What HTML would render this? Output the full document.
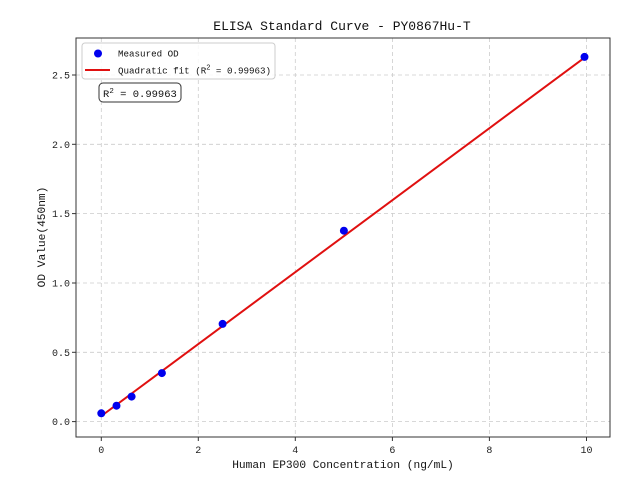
<!DOCTYPE html><html><head><style>body{margin:0;background:#fff}svg{font-family:"Liberation Mono",monospace}</style></head><body>
<svg width="640" height="480" viewBox="0 0 640 480" xmlns="http://www.w3.org/2000/svg">
<rect width="640" height="480" fill="#fff"/>
<g stroke="#ccc" stroke-dasharray="4,3" stroke-width="0.8">
<line x1="101.3" y1="38" x2="101.3" y2="437"/><line x1="198.3" y1="38" x2="198.3" y2="437"/><line x1="295.3" y1="38" x2="295.3" y2="437"/><line x1="392.4" y1="38" x2="392.4" y2="437"/><line x1="489.4" y1="38" x2="489.4" y2="437"/><line x1="586.5" y1="38" x2="586.5" y2="437"/>
<line x1="76" y1="421.6" x2="610" y2="421.6"/><line x1="76" y1="352.3" x2="610" y2="352.3"/><line x1="76" y1="283" x2="610" y2="283"/><line x1="76" y1="213.6" x2="610" y2="213.6"/><line x1="76" y1="144.3" x2="610" y2="144.3"/><line x1="76" y1="75" x2="610" y2="75"/>
</g>
<polyline fill="none" stroke="#e01010" stroke-width="2" points="101.3,416 586.5,56.2"/>
<g fill="#0000ee">
<circle cx="101.3" cy="413.3" r="4"/><circle cx="116.5" cy="405.7" r="4"/><circle cx="131.6" cy="396.6" r="4"/><circle cx="161.9" cy="373.1" r="4"/><circle cx="222.6" cy="323.9" r="4"/><circle cx="343.9" cy="230.7" r="4"/><circle cx="584.5" cy="56.9" r="4"/>
</g>
<rect x="76" y="38" width="534" height="399" fill="none" stroke="#333" stroke-width="1"/>
<g stroke="#333"><line x1="101.3" y1="437" x2="101.3" y2="441"/><line x1="198.3" y1="437" x2="198.3" y2="441"/><line x1="295.3" y1="437" x2="295.3" y2="441"/><line x1="392.4" y1="437" x2="392.4" y2="441"/><line x1="489.4" y1="437" x2="489.4" y2="441"/><line x1="586.5" y1="437" x2="586.5" y2="441"/>
<line x1="72" y1="421.6" x2="76" y2="421.6"/><line x1="72" y1="352.3" x2="76" y2="352.3"/><line x1="72" y1="283" x2="76" y2="283"/><line x1="72" y1="213.6" x2="76" y2="213.6"/><line x1="72" y1="144.3" x2="76" y2="144.3"/><line x1="72" y1="75" x2="76" y2="75"/></g>
<g font-size="10" fill="#222" text-anchor="middle">
<text x="101.3" y="453">0</text><text x="198.3" y="453">2</text><text x="295.3" y="453">4</text><text x="392.4" y="453">6</text><text x="489.4" y="453">8</text><text x="586.5" y="453">10</text></g>
<g font-size="10" fill="#222" text-anchor="end">
<text x="70" y="425">0.0</text><text x="70" y="356">0.5</text><text x="70" y="286.5">1.0</text><text x="70" y="217">1.5</text><text x="70" y="148">2.0</text><text x="70" y="78.5">2.5</text></g>
<text x="343" y="468" font-size="11.2" text-anchor="middle" fill="#111">Human EP300 Concentration (ng/mL)</text>
<text transform="translate(45,237) rotate(-90)" font-size="11.2" text-anchor="middle" fill="#111">OD Value(450nm)</text>
<text x="342" y="30" font-size="13" text-anchor="middle" fill="#111">ELISA Standard Curve - PY0867Hu-T</text>
<rect x="82" y="43" width="193" height="36" rx="3" fill="#fff" fill-opacity="0.85" stroke="#ccc"/>
<circle cx="98" cy="53.5" r="4" fill="#0000ee"/>
<line x1="85" y1="70" x2="110" y2="70" stroke="#e01010" stroke-width="2"/>
<text x="118" y="56.5" font-size="9.2" fill="#111">Measured OD</text>
<text x="118" y="73.5" font-size="9.2" fill="#111">Quadratic fit (R<tspan font-size="7" dy="-4">2</tspan><tspan dy="4"> = 0.99963)</tspan></text>
<rect x="99" y="83" width="82" height="19" rx="4" fill="#fff" stroke="#333"/>
<text x="103" y="97" font-size="10.5" fill="#111">R<tspan font-size="7.5" dy="-4">2</tspan><tspan dy="4"> = 0.99963</tspan></text>
</svg></body></html>
